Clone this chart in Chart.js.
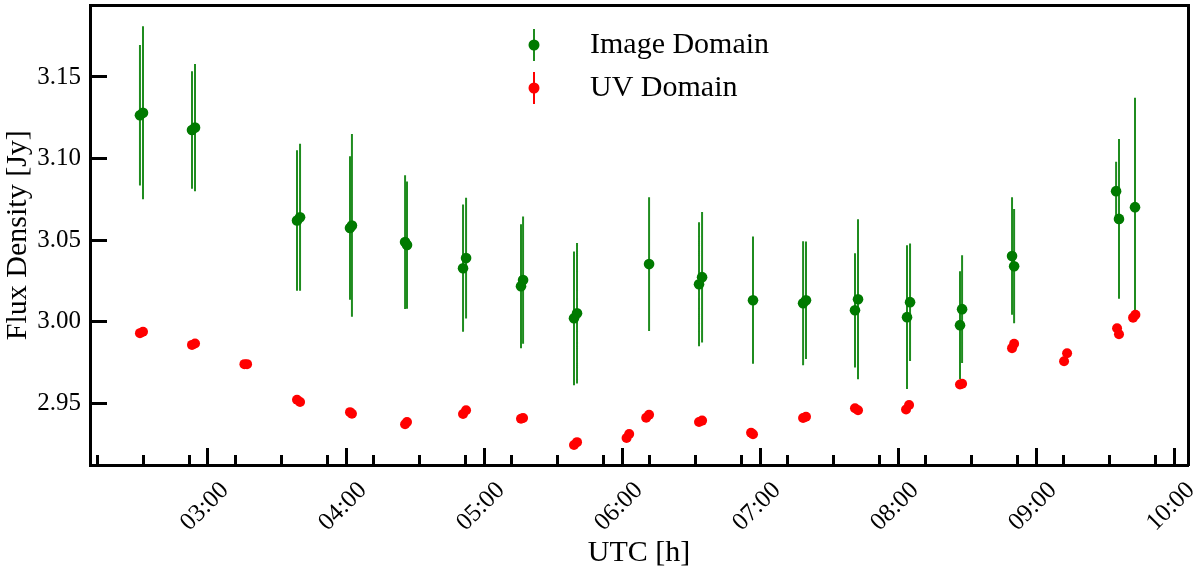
<!DOCTYPE html>
<html><head><meta charset="utf-8">
<script src="https://cdn.jsdelivr.net/npm/chart.js@4.4.1/dist/chart.umd.min.js"></script>
<style>html,body{margin:0;padding:0;background:#fff;} canvas{display:block;}</style>
</head><body>
<canvas id="c" width="1200" height="576"></canvas>
<script>
// ---- data (UTC hours, flux density in Jy) ----
const imgTime = [2.507, 2.529, 2.884, 2.906, 3.645, 3.667, 4.029, 4.043, 4.428, 4.442, 4.848, 4.870, 5.268, 5.283, 5.652, 5.674, 6.196, 6.558, 6.580, 6.949, 7.312, 7.333, 7.688, 7.710, 8.065, 8.087, 8.449, 8.464, 8.826, 8.841, 9.580, 9.601, 9.717];
const imgFlux = [3.1265, 3.128, 3.1175, 3.119, 3.062, 3.064, 3.0574, 3.059, 3.0488, 3.047, 3.0328, 3.039, 3.0218, 3.0255, 3.0021, 3.0052, 3.0353, 3.023, 3.0273, 3.0132, 3.0113, 3.0132, 3.007, 3.0138, 3.0028, 3.012, 2.9979, 3.0077, 3.0402, 3.034, 3.080, 3.063, 3.0702];
const imgErr  = [0.043, 0.053, 0.036, 0.039, 0.043, 0.045, 0.044, 0.056, 0.041, 0.039, 0.039, 0.037, 0.038, 0.039, 0.041, 0.043, 0.041, 0.038, 0.040, 0.039, 0.038, 0.036, 0.035, 0.049, 0.044, 0.036, 0.033, 0.033, 0.036, 0.035, 0.018, 0.049, 0.067];
const uvTime = [2.507, 2.529, 2.884, 2.906, 3.264, 3.283, 3.645, 3.667, 4.029, 4.043, 4.428, 4.442, 4.848, 4.870, 5.268, 5.283, 5.652, 5.674, 6.033, 6.052, 6.175, 6.196, 6.558, 6.580, 6.935, 6.949, 7.312, 7.333, 7.688, 7.710, 8.058, 8.080, 8.449, 8.464, 8.826, 8.841, 9.203, 9.225, 9.587, 9.601, 9.703, 9.720];
const uvFlux = [2.993, 2.9938, 2.9858, 2.9866, 2.974, 2.974, 2.9522, 2.9508, 2.9446, 2.9436, 2.9372, 2.9385, 2.9435, 2.9457, 2.9405, 2.941, 2.9245, 2.9262, 2.9288, 2.9312, 2.9412, 2.943, 2.9386, 2.9394, 2.932, 2.931, 2.941, 2.9418, 2.947, 2.9458, 2.9462, 2.949, 2.9615, 2.962, 2.9838, 2.9865, 2.9758, 2.9807, 2.996, 2.9923, 3.0025, 3.0043];

const seriesNames = ['Image Domain', 'UV Domain'];
const xTickValues = [3, 4, 5, 6, 7, 8, 9, 10];
const xTickLabels = ['03:00', '04:00', '05:00', '06:00', '07:00', '08:00', '09:00', '10:00'];
const yTickValues = [2.95, 3.00, 3.05, 3.10, 3.15];
const xMinorStart = 2.196, xMinorStep = 1 / 3, xMinorCount = 24;
const xRange = [2.145, 10.101];
const yRange = [2.9122, 3.1939];

const GREEN = '#007a00', GREEN_BAR = '#1f8c1f', RED = '#ff0000';

// error bar segments built from values +- errors (null breaks the line)
const errSegments = [];
imgTime.forEach((t, i) => {
  errSegments.push({x: t, y: imgFlux[i] - imgErr[i]});
  errSegments.push({x: t, y: imgFlux[i] + imgErr[i]});
  errSegments.push({x: t, y: null});
});

function legendMarker(dot, line) {
  const c = document.createElement('canvas');
  c.width = 14; c.height = 32;
  const g = c.getContext('2d');
  g.strokeStyle = line; g.lineWidth = 2;
  g.beginPath(); g.moveTo(7, 0); g.lineTo(7, 32); g.stroke();
  g.fillStyle = dot;
  g.beginPath(); g.arc(7, 16, 5.5, 0, Math.PI * 2); g.fill();
  return c;
}
const markers = [legendMarker(GREEN, GREEN_BAR), legendMarker(RED, RED)];

Chart.defaults.font.family = "'Liberation Serif', 'Times New Roman', serif";
Chart.defaults.color = '#000';

const zeroPad = s => { s.paddingLeft = s.paddingRight = s.paddingTop = s.paddingBottom = 0; };

// place the legend inside the plot area, near the top centre
const legendPlace = {
  id: 'legendPlace',
  afterLayout(chart) {
    const lg = chart.legend;
    lg.left = 480; lg.top = 17; lg.right = 900; lg.bottom = 130;
    lg.width = 420; lg.height = 113;
  }
};

new Chart(document.getElementById('c'), {
  type: 'scatter',
  data: {
    datasets: [
      { label: seriesNames[1], data: uvTime.map((t, i) => ({x: t, y: uvFlux[i]})),
        backgroundColor: RED, borderColor: RED, pointRadius: 5, borderWidth: 0, order: 0 },
      { label: seriesNames[0], data: imgTime.map((t, i) => ({x: t, y: imgFlux[i]})),
        backgroundColor: GREEN, borderColor: GREEN, pointRadius: 5.3, borderWidth: 0, order: 1 },
      { label: 'err', data: errSegments, showLine: true, spanGaps: false,
        borderColor: GREEN_BAR, borderWidth: 2, pointRadius: 0, order: 2 }
    ]
  },
  options: {
    responsive: false, animation: false, devicePixelRatio: 1, events: [],
    layout: { padding: { left: 0, right: 12, top: 5, bottom: 0 } },
    plugins: {
      tooltip: { enabled: false },
      legend: {
        position: 'chartArea', align: 'start',
        labels: {
          usePointStyle: true, pointStyleWidth: 82, padding: 13, color: '#000',
          font: { size: 30 },
          generateLabels: () => seriesNames.map((n, i) => ({
            text: n, pointStyle: markers[i], fillStyle: 'rgba(0,0,0,0)',
            strokeStyle: 'rgba(0,0,0,0)', lineWidth: 0, hidden: false, datasetIndex: 1 - i
          }))
        }
      }
    },
    scales: {
      x: {
        type: 'linear', position: 'bottom', min: xRange[0], max: xRange[1], weight: 0,
        afterBuildTicks: s => { s.ticks = xTickValues.map(v => ({value: v})); },
        afterFit: s => { s.height = 111; zeroPad(s); },
        ticks: { autoSkip: false, minRotation: 45, maxRotation: 45, padding: 28, labelOffset: 17,
                 color: '#000', font: { size: 25 },
                 callback: (v, i) => xTickLabels[i] },
        grid: { drawOnChartArea: false, drawTicks: true, tickLength: -17, tickWidth: 3, tickColor: '#000' },
        border: { display: true, width: 3, color: '#000' },
        title: { display: true, text: 'UTC [h]', color: '#000', font: { size: 30 }, padding: { top: 0, bottom: 5 } }
      },
      xMinor: {
        type: 'linear', axis: 'x', position: 'bottom', min: xRange[0], max: xRange[1], weight: -1,
        afterBuildTicks: s => { s.ticks = Array.from({length: xMinorCount}, (_, k) => ({value: xMinorStart + k * xMinorStep})); },
        afterFit: s => { s.height = 0; zeroPad(s); },
        ticks: { display: false, autoSkip: false },
        grid: { drawOnChartArea: false, drawTicks: true, tickLength: -10, tickWidth: 3, tickColor: '#000' },
        border: { display: false }
      },
      xTop: {
        type: 'linear', axis: 'x', position: 'top', min: xRange[0], max: xRange[1],
        afterFit: s => { s.height = 0; zeroPad(s); },
        ticks: { display: false }, grid: { display: false },
        border: { display: true, width: 3, color: '#000' }
      },
      y: {
        type: 'linear', position: 'left', min: yRange[0], max: yRange[1],
        afterBuildTicks: s => { s.ticks = yTickValues.map(v => ({value: v})); },
        afterFit: s => { s.width = 90; zeroPad(s); },
        ticks: { autoSkip: false, padding: 26, color: '#000', font: { size: 25 },
                 callback: v => v.toFixed(2) },
        grid: { drawOnChartArea: false, drawTicks: true, tickLength: -17, tickWidth: 3, tickColor: '#000' },
        border: { display: true, width: 3, color: '#000' },
        title: { display: true, text: 'Flux Density [Jy]', color: '#000', font: { size: 30 }, padding: { top: 0, bottom: 0 } }
      },
      yRight: {
        type: 'linear', axis: 'y', position: 'right', min: yRange[0], max: yRange[1],
        afterFit: s => { s.width = 0; zeroPad(s); },
        ticks: { display: false }, grid: { display: false },
        border: { display: true, width: 3, color: '#000' }
      }
    }
  },
  plugins: [legendPlace]
});
</script>
</body></html>
